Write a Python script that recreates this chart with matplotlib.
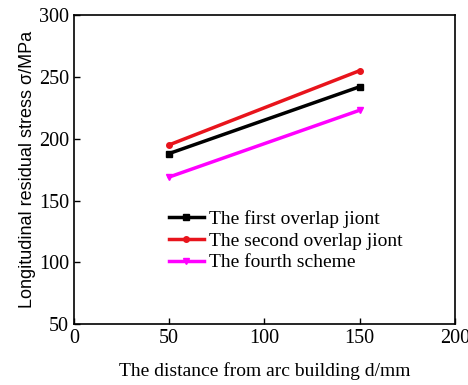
import matplotlib.pyplot as plt

# data
distance = [50, 150]
first_joint = [188, 242]
second_joint = [195, 255]
fourth_scheme = [169, 223]

serif = ['Liberation Serif', 'DejaVu Serif']
sans = ['Liberation Sans', 'DejaVu Sans']

fig = plt.figure(figsize=(4.68, 3.85), dpi=100)
ax = fig.add_axes([0.158, 0.158, 0.814, 0.803])

ax.plot(distance, first_joint, '-s', color='black', lw=2.5, ms=4,
        label='The first overlap jiont')
ax.plot(distance, second_joint, '-o', color='#e8141c', lw=2.5, ms=4,
        label='The second overlap jiont')
ax.plot(distance, fourth_scheme, '-v', color='#ff00ff', lw=2.5, ms=4,
        label='The fourth scheme')

ax.set_xlim(0, 200)
ax.set_ylim(50, 300)
ax.set_xticks([0, 50, 100, 150, 200])
ax.set_yticks([50, 100, 150, 200, 250, 300])
ax.tick_params(direction='in', length=4, width=1, labelsize=14.5)
for lbl in ax.get_xticklabels() + ax.get_yticklabels():
    lbl.set_family(serif)
for s in ax.spines.values():
    s.set_linewidth(1.2)

ax.set_xlabel('The distance from arc building d/mm', family=serif, fontsize=14, labelpad=10)
ax.set_ylabel('Longitudinal residual stress \u03c3/MPa', family=sans, fontsize=13, labelpad=2)

leg = ax.legend(loc='upper left', bbox_to_anchor=(0.228, 0.395), frameon=False,
                prop={'family': serif, 'size': 14}, handlelength=1.8,
                handletextpad=0.3, labelspacing=0.22, borderaxespad=0)

fig.savefig('out.png', dpi=100)
